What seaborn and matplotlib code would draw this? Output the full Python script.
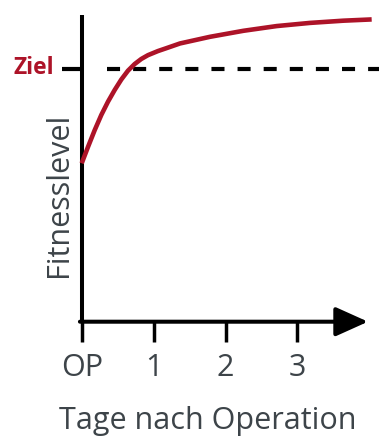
import matplotlib
matplotlib.use("Agg")
import matplotlib.pyplot as plt
import seaborn as sns
import pandas as pd

sns.set_theme(style="white")
plt.rcParams['font.family'] = ['Open Sans', 'DejaVu Sans']
plt.rcParams['lines.scale_dashes'] = False

# Data
tage = [0.0, 0.088, 0.181, 0.273, 0.366, 0.459, 0.551, 0.644, 0.737, 0.829, 0.922,
        1.061, 1.177, 1.367, 1.784, 2.248, 2.712, 3.175, 3.638, 4.033]
fitness = [50.1, 55.3, 60.6, 65.4, 69.6, 73.3, 76.6, 79.4, 81.5, 83.1, 84.3,
           85.6, 86.5, 88.0, 90.1, 92.0, 93.5, 94.5, 95.2, 95.6]
ziel = 80.0
tick_pos = [0, 1, 2, 3]
tick_labels = ["OP", "1", "2", "3"]
xlabel = "Tage nach Operation"
ylabel = "Fitnesslevel"
ziel_label = "Ziel"

red = "#ad1328"
grey = "#3d4449"

df = pd.DataFrame({"tage": tage, "fitness": fitness})

W, H = 379, 436
fig = plt.figure(figsize=(W / 100, H / 100), dpi=100)
x0, y0 = 81.7, 321.7  # axis origin in pixels (from top-left)
ppd = 71.9            # pixels per day
xmax = 4.05
ax = fig.add_axes([x0 / W, (H - y0) / H, xmax * ppd / W, (y0 - 15) / H])

sns.lineplot(data=df, x="tage", y="fitness", ax=ax, color=red, linewidth=3.3,
             clip_on=False, zorder=3, solid_capstyle="butt", solid_joinstyle="round")

ax.set_xlim(0, xmax)
ax.set_ylim(0, 97.0)

# Target dashed line
dash_start = 25.0 / ppd
ax.plot([dash_start, (W - x0) / ppd], [ziel, ziel], color="black", linewidth=3.0,
        dashes=(9.4, 9.4), clip_on=False, zorder=2, solid_capstyle="butt",
        dash_capstyle="butt")
ax.plot([-20.0 / ppd, 0], [ziel, ziel], color="black", linewidth=3.0,
        clip_on=False, zorder=2, solid_capstyle="butt")
fig.text(54 / W, (H - 74) / H, ziel_label, color=red, fontsize=16.5,
         fontweight="bold", ha="right", va="baseline")

for s in ["top", "right", "bottom"]:
    ax.spines[s].set_visible(False)
ax.spines["left"].set_linewidth(2.9)
ax.spines["left"].set_color("black")
ax.spines["left"].set_capstyle("butt")

# x axis arrow
ax.annotate("", xy=((368 - x0) / ppd, 0), xytext=(-0.025, 0), xycoords="data",
            arrowprops=dict(arrowstyle="-|>,head_length=2.0,head_width=0.9",
                            mutation_scale=10, color="black", lw=2.9,
                            shrinkA=0, shrinkB=0),
            annotation_clip=False)

ax.set_xticks(tick_pos)
ax.set_xticklabels(tick_labels)
ax.set_yticks([])
ax.tick_params(axis="x", direction="out", length=14.2, width=2.5, color="black",
               pad=8.6, labelsize=22, labelcolor=grey, bottom=True)

ax.set_xlabel(xlabel, fontsize=22, color=grey)
ax.xaxis.set_label_coords(208 / W, (H - 429) / H, transform=fig.transFigure)
ax.xaxis.label.set_va("baseline")
ax.xaxis.label.set_ha("center")

ax.set_ylabel(ylabel, fontsize=22, color=grey)
ax.yaxis.set_label_coords(67 / W, (H - 195) / H, transform=fig.transFigure)
ax.yaxis.label.set_rotation_mode("anchor")
ax.yaxis.label.set_va("baseline")
ax.yaxis.label.set_ha("center")

ax.set_facecolor("white")

fig.savefig("out.png", dpi=100, facecolor="white")
